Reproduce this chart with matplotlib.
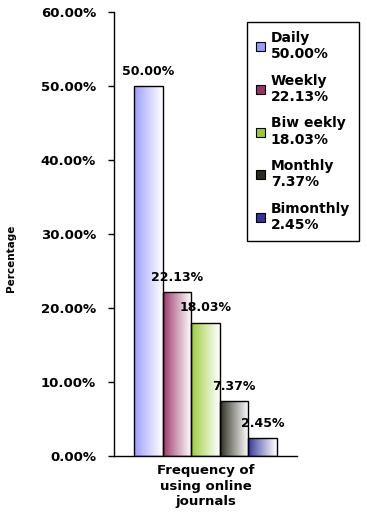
import numpy as np
import matplotlib
matplotlib.use('Agg')
import matplotlib.pyplot as plt
from matplotlib.patches import Patch
from matplotlib.colors import to_rgb

categories = ['Daily', 'Weekly', 'Biw eekly', 'Monthly', 'Bimonthly']
values = [50.00, 22.13, 18.03, 7.37, 2.45]
colors = ['#9999ff', '#993366', '#99cc33', '#2a2a1e', '#333399']
yticks = [0, 10, 20, 30, 40, 50, 60]

plt.rcParams['font.family'] = ['DejaVu Sans']

fig = plt.figure(figsize=(3.67, 5.13), dpi=100)
ax = fig.add_axes([0.3106, 0.1111, 0.4987, 0.8655])

x = np.arange(len(values))
bars = ax.bar(x, values, width=1.0, facecolor='none', edgecolor='black',
              linewidth=1.0, zorder=3)

# horizontal gradient (colour -> white) clipped to each bar
for bar, c in zip(bars, colors):
    rgb = np.array(to_rgb(c))
    t = np.linspace(0, 1, 64) ** 0.9
    grad = rgb[None, :] * (1 - t[:, None]) + t[:, None]
    img = ax.imshow(grad[None, :, :], aspect='auto', zorder=2,
                    extent=(bar.get_x(), bar.get_x() + bar.get_width(),
                            0, bar.get_height()),
                    interpolation='bilinear')
    img.set_clip_path(bar)

for xi, v in zip(x, values):
    ax.annotate(f'{v:.2f}%', (xi, v), xytext=(0, 10.5), textcoords='offset points',
                ha='center', va='center', fontsize=9, fontweight='bold', zorder=4)

ax.set_xlim(-1.21, 5.21)
ax.set_ylim(0, 60)
ax.set_yticks(yticks)
ax.set_yticklabels([f'{t:.2f}%' for t in yticks], fontsize=9.5, fontweight='bold')
ax.tick_params(axis='y', direction='out', length=4, width=1, pad=9)
ax.set_xticks([])
for s in ['top', 'right']:
    ax.spines[s].set_visible(False)
ax.spines['left'].set_linewidth(1)
ax.spines['bottom'].set_linewidth(1)

ax.set_xlabel('Frequency of\nusing online\njournals', fontsize=9.5,
              fontweight='bold', labelpad=6, linespacing=1.25)
fig.text(11 / 367, 1 - 258 / 513, 'Percentage', rotation=90, fontsize=7.5,
         fontweight='bold', ha='center', va='center',
         family=['Liberation Sans Narrow', 'DejaVu Sans'])

handles = [Patch(facecolor=c, edgecolor='black', linewidth=0.8) for c in colors]
labels = [f'{n}\n{v:.2f}%' for n, v in zip(categories, values)]
leg = fig.legend(handles, labels, loc='upper right',
                 bbox_to_anchor=(359 / 367, 1 - 22 / 513), borderaxespad=0,
                 prop={'size': 10, 'weight': 'bold'},
                 handlelength=0.65, handleheight=0.65,
                 handletextpad=0.4, labelspacing=0.9, borderpad=0.65,
                 fancybox=False, framealpha=1, edgecolor='black')
leg.get_frame().set_linewidth(1)

fig.savefig('out.png', dpi=100)
